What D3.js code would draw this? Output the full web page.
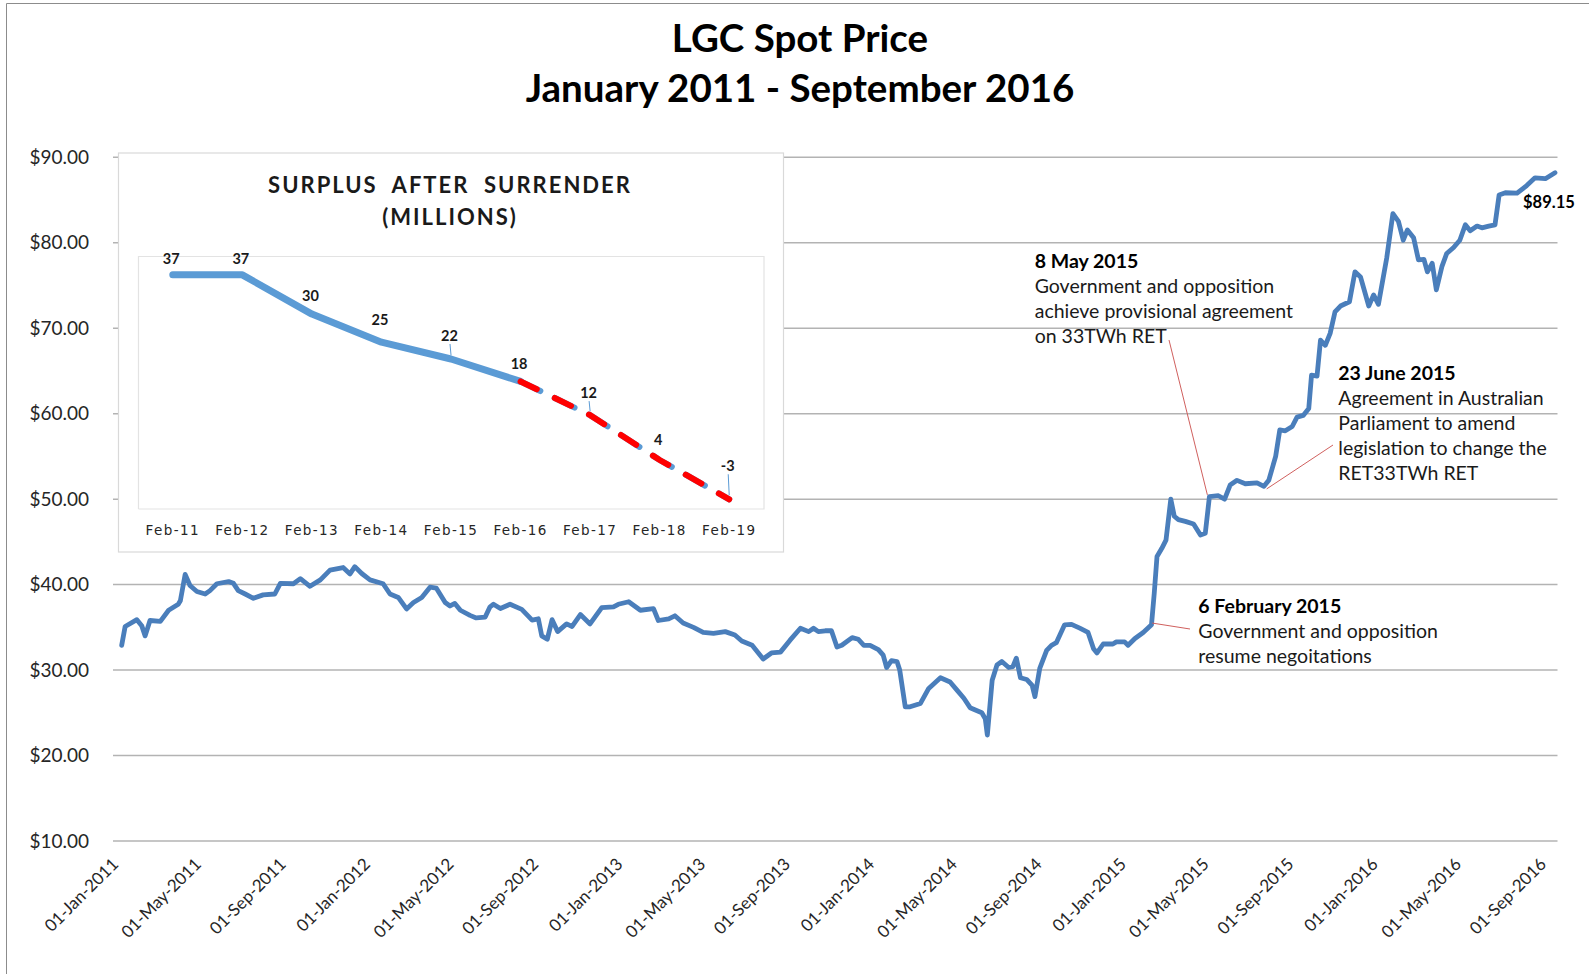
<!DOCTYPE html>
<html><head><meta charset="utf-8">
<script src="https://cdn.jsdelivr.net/npm/d3@7"></script>
<style>
body{margin:0;background:#fff;}
svg{display:block;font-family:Lato,'Open Sans',sans-serif;}
</style>
</head><body>
<svg id="chart" width="1589" height="974"></svg>
<script>
// ---------- DATA ----------
const priceDates = [
"2011-01-01","2011-01-06","2011-01-23","2011-01-30","2011-02-04","2011-02-11","2011-02-26","2011-03-10","2011-03-24","2011-03-27",
"2011-04-03","2011-04-10","2011-04-20","2011-05-02","2011-05-09","2011-05-19","2011-06-05","2011-06-12","2011-06-19","2011-06-29",
"2011-07-11","2011-07-25","2011-08-11","2011-08-19","2011-09-07","2011-09-17","2011-10-01","2011-10-16","2011-10-30","2011-11-18",
"2011-11-28","2011-12-05","2011-12-15","2011-12-27","2012-01-15","2012-01-25","2012-02-06","2012-02-18","2012-02-28","2012-03-11",
"2012-03-23","2012-04-01","2012-04-14","2012-04-21","2012-04-28","2012-05-06","2012-05-20","2012-05-29","2012-06-11","2012-06-18",
"2012-06-23","2012-07-03","2012-07-17","2012-08-03","2012-08-18","2012-08-27","2012-09-01","2012-09-09","2012-09-16","2012-09-24",
"2012-10-07","2012-10-15","2012-10-27","2012-11-10","2012-11-27","2012-12-14","2012-12-21","2013-01-05","2013-01-22","2013-02-10",
"2013-02-17","2013-03-04","2013-03-13","2013-03-25","2013-04-09","2013-04-23","2013-05-08","2013-05-25","2013-06-08","2013-06-18",
"2013-07-03","2013-07-19","2013-07-31","2013-08-13","2013-08-27","2013-09-11","2013-09-23","2013-09-30","2013-10-07","2013-10-17",
"2013-10-26","2013-11-03","2013-11-10","2013-11-25","2013-12-04","2013-12-12","2013-12-21","2014-01-02","2014-01-09","2014-01-14",
"2014-01-21","2014-01-29","2014-02-02","2014-02-10","2014-02-17","2014-03-04","2014-03-16","2014-04-02","2014-04-16","2014-04-26",
"2014-05-06","2014-05-15","2014-06-01","2014-06-06","2014-06-09","2014-06-16","2014-06-23","2014-06-30","2014-07-10","2014-07-16",
"2014-07-21","2014-07-27","2014-08-05","2014-08-13","2014-08-17","2014-08-24","2014-09-03","2014-09-10","2014-09-17","2014-09-29",
"2014-10-09","2014-10-21","2014-11-02","2014-11-10","2014-11-15","2014-11-24","2014-12-08","2014-12-13","2014-12-25","2014-12-30",
"2015-01-09","2015-01-21","2015-02-02","2015-02-06","2015-02-10","2015-02-17","2015-02-23","2015-03-02","2015-03-07","2015-03-13",
"2015-03-23","2015-04-04","2015-04-14","2015-04-21","2015-04-27","2015-05-10","2015-05-19","2015-05-27","2015-06-06","2015-06-18",
"2015-07-05","2015-07-15","2015-07-22","2015-08-01","2015-08-07","2015-08-15","2015-08-25","2015-09-01","2015-09-10","2015-09-18",
"2015-09-22","2015-09-30","2015-10-05","2015-10-12","2015-10-19","2015-10-26","2015-11-03","2015-11-16","2015-11-24","2015-12-02",
"2015-12-14","2015-12-21","2015-12-28","2016-01-09","2016-01-18","2016-01-26","2016-02-02","2016-02-08","2016-02-17","2016-02-24",
"2016-03-03","2016-03-08","2016-03-15","2016-03-21","2016-03-29","2016-04-05","2016-04-15","2016-04-24","2016-05-02","2016-05-09",
"2016-05-19","2016-05-26","2016-06-05","2016-06-14","2016-06-20","2016-06-29","2016-07-16","2016-07-30","2016-08-11","2016-08-26",
"2016-09-09"];
const priceValues = [
32.9,35.1,35.9,35.2,34.0,35.8,35.7,37.0,37.7,38.1,
41.2,39.9,39.2,38.9,39.3,40.1,40.35,40.15,39.3,38.9,
38.4,38.8,38.9,40.15,40.1,40.7,39.8,40.55,41.7,42.0,
41.25,42.1,41.3,40.55,40.1,38.9,38.5,37.15,37.9,38.5,
39.7,39.6,37.9,37.5,37.8,37.0,36.4,36.1,36.2,37.4,
37.7,37.2,37.7,37.1,35.85,36.0,34.0,33.6,35.9,34.5,
35.4,35.1,36.5,35.4,37.3,37.4,37.7,38.0,37.0,37.2,
35.8,36.0,36.35,35.5,35.0,34.4,34.3,34.5,34.1,33.4,
32.9,31.3,32.0,32.1,33.5,34.9,34.5,34.9,34.5,34.6,
34.6,32.7,32.9,33.8,33.6,32.9,32.9,32.4,31.75,30.3,
31.1,31.0,30.0,25.7,25.7,26.1,27.85,29.1,28.6,27.65,
26.7,25.6,25.0,24.3,22.4,28.8,30.6,31.0,30.3,30.4,
31.4,29.1,28.9,28.2,26.9,30.2,32.3,32.9,33.2,35.3,
35.35,34.9,34.4,32.5,32.0,33.05,33.05,33.3,33.3,32.9,
33.7,34.4,35.3,39.0,43.3,44.25,45.2,50.0,48.0,47.6,
47.4,47.1,45.8,46.0,50.3,50.4,50.0,51.65,52.2,51.8,
51.9,51.5,52.2,55.0,58.1,58.0,58.5,59.6,59.8,60.6,
64.5,64.4,68.6,68.0,69.4,71.9,72.6,73.1,76.6,76.0,
72.6,73.9,72.8,78.2,83.4,82.5,80.3,81.5,80.6,78.0,
78.05,76.6,77.6,74.5,77.2,78.75,79.45,80.3,82.1,81.4,
81.95,81.75,81.95,82.1,85.6,85.85,85.8,86.7,87.6,87.5,
88.2];
const yTicks = [10,20,30,40,50,60,70,80,90];
const xTickDates = ["2011-01-01","2011-05-01","2011-09-01","2012-01-01","2012-05-01","2012-09-01",
  "2013-01-01","2013-05-01","2013-09-01","2014-01-01","2014-05-01","2014-09-01",
  "2015-01-01","2015-05-01","2015-09-01","2016-01-01","2016-05-01","2016-09-01"];
const titleLines = ["LGC Spot Price","January 2011 - September 2016"];
const lastPriceLabel = "$89.15";

const surplusCategories = ["Feb-11","Feb-12","Feb-13","Feb-14","Feb-15","Feb-16","Feb-17","Feb-18","Feb-19"];
const surplusValues = [37,37,30,25,22,18,12,4,-3];
const surplusActualCount = 6; // Feb-11..Feb-16 actual, rest projected
const surplusTitle = ["SURPLUS  AFTER  SURRENDER","(MILLIONS)"];

const annoDates = ["2015-02-03","2015-04-24","2015-07-19"];
const annoValues = [35.5,50.5,51.2];
const annoHeads = ["6 February 2015","8 May 2015","23 June 2015"];
const annoBodies = [
  ["Government and opposition","resume negoitations"],
  ["Government and opposition","achieve provisional agreement","on 33TWh RET"],
  ["Agreement in Australian","Parliament to amend","legislation to change the","RET33TWh RET"]
];

// ---------- LAYOUT ----------
const svg = d3.select("#chart");
const parse = d3.timeParse("%Y-%m-%d");
const fmtTick = d3.timeFormat("%d-%b-%Y");
const prices = priceDates.map((d,i)=>({date:parse(d), value:priceValues[i]}));

const x = d3.scaleTime().domain([parse("2011-01-01"), parse("2016-09-09")]).range([121.7, 1555]);
const y = d3.scaleLinear().domain([10,90]).range([841,157.3]);

// frame
svg.append("path").attr("d","M6.5,974V3.5H1589").attr("fill","none").attr("stroke","#8c8c8c").attr("stroke-width",1);

// title
svg.append("g").selectAll("text").data(titleLines).join("text")
  .attr("x",800).attr("y",(d,i)=>52+i*50).attr("text-anchor","middle")
  .attr("font-size",38.5).attr("font-weight","bold").attr("fill","#000").text(d=>d);

// gridlines
svg.append("g").selectAll("line").data(yTicks).join("line")
  .attr("x1",113).attr("x2",1557.5).attr("y1",d=>y(d)).attr("y2",d=>y(d))
  .attr("stroke","#b3b3b3").attr("stroke-width",1.5);

// y axis labels
const yAxis = d3.axisLeft(y).tickValues(yTicks).tickSize(0).tickPadding(0).tickFormat(d=>"$"+d3.format(".2f")(d));
const gy = svg.append("g").attr("transform","translate(89,0)").call(yAxis);
gy.select(".domain").remove();
gy.selectAll("text").attr("font-size",19).attr("fill","#262626").attr("font-family","Lato");

// x axis labels
const xAxis = d3.axisBottom(x).tickValues(xTickDates.map(parse)).tickSize(0).tickFormat(fmtTick);
const gx = svg.append("g").attr("transform","translate(0,850)").call(xAxis);
gx.select(".domain").remove();
gx.selectAll("text").attr("font-size",17).attr("fill","#262626").attr("font-family","Lato")
  .attr("text-anchor","end").attr("dy","0.35em").attr("y",0)
  .attr("transform","translate(-7,11) rotate(-45)");

// main line
const line = d3.line().x(d=>x(d.date)).y(d=>y(d.value)).curve(d3.curveLinear);
svg.append("path").datum(prices).attr("d",line).attr("fill","none")
  .attr("stroke","#4a7ebb").attr("stroke-width",4.8).attr("stroke-linejoin","round").attr("stroke-linecap","round");

// last price label
const last = prices[prices.length-1];
svg.append("text").attr("x",x(last.date)-32).attr("y",y(last.value)+35)
  .attr("font-size",16.5).attr("font-weight","bold").attr("fill","#000").text(lastPriceLabel);

// annotations
const annoLayout = [
  {tx:1198.3, ty:613, lx:1190, ly:629},
  {tx:1034.7, ty:268, lx:1169, ly:340},
  {tx:1338.3, ty:380, lx:1333, ly:445}
];
const ag = svg.append("g");
annoHeads.forEach((h,i)=>{
  const L = annoLayout[i];
  const px = x(parse(annoDates[i])), py = y(annoValues[i]);
  ag.append("line").attr("x1",L.lx).attr("y1",L.ly).attr("x2",px).attr("y2",py)
    .attr("stroke","#d0605e").attr("stroke-width",1);
  const t = ag.append("text").attr("x",L.tx).attr("y",L.ty).attr("font-size",19.5).attr("fill","#000");
  t.append("tspan").attr("x",L.tx).attr("font-weight","bold").text(h);
  annoBodies[i].forEach((b,j)=>{
    t.append("tspan").attr("x",L.tx).attr("dy",25).attr("fill","#1a1a1a").text(b);
  });
});

// ---------- INSET ----------
const inset = svg.append("g");
inset.append("rect").attr("x",118.5).attr("y",153).attr("width",665).attr("height",399)
  .attr("fill","#fff").attr("stroke","#d9d9d9").attr("stroke-width",1.2);
inset.append("path").attr("d","M138.5,509V256.5H764V509H138.5").attr("fill","none").attr("stroke","#e3e3e3").attr("stroke-width",1.2);

inset.append("g").selectAll("text").data(surplusTitle).join("text")
  .attr("x",450).attr("y",(d,i)=>193+i*32).attr("text-anchor","middle")
  .attr("font-size",22).attr("font-weight","bold").attr("fill","#1a1a1a")
  .attr("letter-spacing",2).style("white-space","pre").text(d=>d);

const xs = d3.scalePoint().domain(surplusCategories).range([138,764]).padding(0.5);
const ys = d3.scaleLinear().domain([-5,40]).range([510.5,258]);
const sData = surplusCategories.map((c,i)=>({cat:c, value:surplusValues[i]}));
const sLine = d3.line().x(d=>xs(d.cat)).y(d=>ys(d.value));

inset.append("path").datum(sData.slice(0,surplusActualCount)).attr("d",sLine)
  .attr("fill","none").attr("stroke","#5b9bd5").attr("stroke-width",7).attr("stroke-linejoin","round").attr("stroke-linecap","round");
const proj = sData.slice(surplusActualCount-1);
inset.append("path").datum(proj).attr("d",sLine)
  .attr("fill","none").attr("stroke","#5b9bd5").attr("stroke-width",6).attr("stroke-dasharray","22 16").attr("stroke-linecap","round");
inset.append("path").datum(proj).attr("d",sLine)
  .attr("fill","none").attr("stroke","#ff0000").attr("stroke-width",6).attr("stroke-dasharray","18 20").attr("stroke-linecap","round");

// data labels
const labelDy = [-16,-16,-18,-22,-23,-18,-22,-20,-33];
inset.append("g").selectAll("text").data(sData).join("text")
  .attr("x",d=>xs(d.cat)-1.5).attr("y",(d,i)=>ys(d.value)+labelDy[i]).attr("dy","0.35em")
  .attr("text-anchor","middle").attr("font-size",14.5).attr("font-weight","bold").attr("fill","#1a1a1a")
  .text(d=>d.value);
// leader ticks for some labels
const leaderIdx = [4,6,8];
inset.append("g").selectAll("line").data(leaderIdx).join("line")
  .attr("x1",i=>xs(sData[i].cat)-1).attr("x2",i=>xs(sData[i].cat))
  .attr("y1",i=>ys(sData[i].value)+labelDy[i]+8).attr("y2",i=>ys(sData[i].value)-4)
  .attr("stroke","#5b9bd5").attr("stroke-width",1);

// inset x labels
inset.append("g").selectAll("text").data(surplusCategories).join("text")
  .attr("x",d=>xs(d)).attr("y",535).attr("text-anchor","middle")
  .attr("font-family","DejaVu Sans").attr("font-size",13.5).attr("letter-spacing",1.4)
  .attr("fill","#262626").text(d=>d);
</script>
</body></html>
